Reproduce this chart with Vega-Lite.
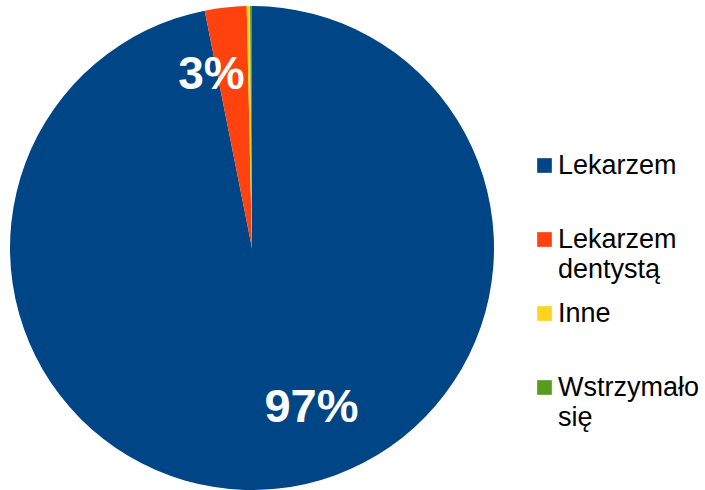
{
  "$schema": "https://vega.github.io/schema/vega-lite/v6.json",
  "width": 484,
  "height": 484,
  "padding": {"left": 10, "top": 6, "right": 0, "bottom": 0},
  "background": "white",
  "config": {
    "view": {"stroke": null},
    "font": "Liberation Sans",
    "style": {"guide-label": {"lineHeight": 30}}
  },
  "data": {
    "values": [
      {"kategoria": "Lekarzem", "udzial": 96.87, "kolejnosc": 1, "etykieta": "97%"},
      {"kategoria": "Lekarzem dentystą", "udzial": 2.78, "kolejnosc": 2, "etykieta": "3%"},
      {"kategoria": "Inne", "udzial": 0.22, "kolejnosc": 3, "etykieta": ""},
      {"kategoria": "Wstrzymało się", "udzial": 0.13, "kolejnosc": 4, "etykieta": ""}
    ]
  },
  "layer": [
    {
      "mark": {"type": "arc", "outerRadius": 242},
      "encoding": {
        "theta": {"field": "udzial", "type": "quantitative", "stack": true, "scale": {"domain": [0, 100]}},
        "order": {"field": "kolejnosc", "type": "ordinal"},
        "color": {
          "field": "kategoria",
          "type": "nominal",
          "scale": {
            "domain": ["Lekarzem", "Lekarzem dentystą", "Inne", "Wstrzymało się"],
            "range": ["#004586", "#ff420e", "#ffd320", "#579d1c"]
          },
          "legend": {
            "title": null,
            "orient": "none",
            "legendX": 521,
            "legendY": 146,
            "padding": 0,
            "symbolType": "square",
            "symbolSize": 215,
            "symbolStrokeWidth": 0,
            "labelFont": "Liberation Sans",
            "labelFontSize": 27,
            "labelColor": "black",
            "labelOffset": 0,
            "labelLimit": 0,
            "rowPadding": 16,
            "labelExpr": "datum.label == 'Lekarzem dentystą' ? ['Lekarzem', 'dentystą'] : datum.label == 'Wstrzymało się' ? ['Wstrzymało', 'się'] : [datum.label, ' ']"
          }
        }
      }
    },
    {
      "transform": [
        {"stack": "udzial", "groupby": [], "sort": [{"field": "kolejnosc"}], "as": ["t0", "t1"]},
        {"calculate": "(datum.t0 + datum.t1) / 2", "as": "tm"},
        {"filter": "datum.etykieta == '97%'"}
      ],
      "mark": {"type": "text", "radius": 168, "dx": 43, "dy": -7, "fontSize": 47, "fontWeight": "bold", "color": "white", "font": "Liberation Sans", "align": "center", "baseline": "middle"},
      "encoding": {
        "theta": {"field": "tm", "type": "quantitative", "stack": null, "scale": {"domain": [0, 100]}},
        "text": {"field": "etykieta"}
      }
    },
    {
      "transform": [
        {"stack": "udzial", "groupby": [], "sort": [{"field": "kolejnosc"}], "as": ["t0", "t1"]},
        {"calculate": "(datum.t0 + datum.t1) / 2", "as": "tm"},
        {"filter": "datum.etykieta == '3%'"}
      ],
      "mark": {"type": "text", "radius": 180, "dx": -21, "dy": 6, "fontSize": 46, "fontWeight": "bold", "color": "white", "font": "Liberation Sans", "align": "center", "baseline": "middle"},
      "encoding": {
        "theta": {"field": "tm", "type": "quantitative", "stack": null, "scale": {"domain": [0, 100]}},
        "text": {"field": "etykieta"}
      }
    }
  ]
}
